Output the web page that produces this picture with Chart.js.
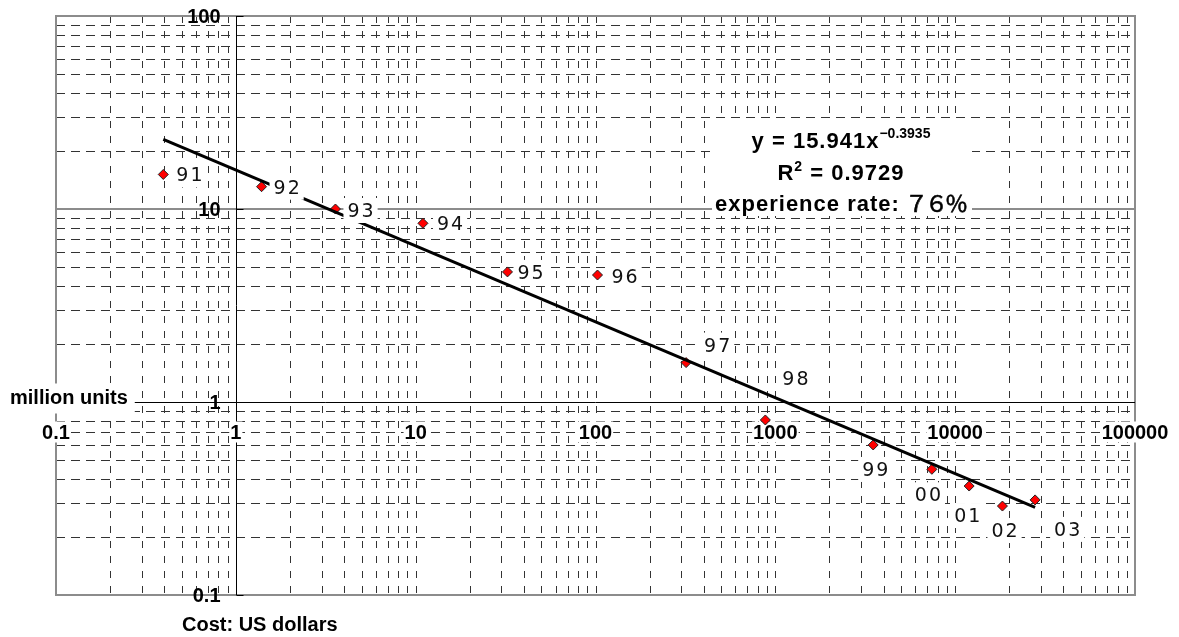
<!DOCTYPE html>
<html>
<head>
<meta charset="utf-8">
<script src="https://cdn.jsdelivr.net/npm/chart.js@4/dist/chart.umd.min.js"></script>
<style>
  html, body { margin: 0; padding: 0; background: #fff; overflow: hidden; }
  canvas { display: block; }
</style>
</head>
<body>
<canvas id="chart" width="1179" height="637"></canvas>
<script>
// Yearly points: cumulative cost (US dollars) against volume (million units)
const years = ['91', '92', '93', '94', '95', '96', '97', '98', '99', '00', '01', '02', '03'];
const cost  = [0.395, 1.39, 3.58, 10.98, 32.4, 102.6, 319, 880, 3500, 7420, 11960, 18320, 27830];
const units = [15.1, 13.05, 10.0, 8.43, 4.72, 4.55, 1.60, 0.807, 0.599, 0.448, 0.367, 0.289, 0.311];

// Power-law fit as printed in the annotation
const fitCoef = 15.941;
const fitExp = -0.3935;
const fitCoefText = '15.941';
const fitExpText = '\u22120.3935';
const fitR2Text = '0.9729';
const experienceLabel = 'experience rate: ';
const experienceRate = '\uFF17\uFF16\uFF05';

// Axis ticks (decades); the minor grid uses 2..9 within each decade
const xTickValues = [0.1, 1, 10, 100, 1000, 10000, 100000];
const xTickLabels = ['0.1', '1', '10', '100', '1000', '10000', '100000'];
const yTickValues = [0.1, 1, 10, 100];
const yTickLabels = ['0.1', '1', '10', '100'];
const minorSteps = [2, 3, 4, 5, 6, 7, 8, 9];
const xTitle = 'million units';
const yTitle = 'Cost: US dollars';

// Where each year label sits relative to its marker (px: left edge, vertical middle)
const labelOffsets = [
  [13, 0], [12, 0], [12, 1], [14, 0], [10, 0], [14, 1], [18, -18],
  [17, -42], [-11, 24], [-17, 25], [-15, 29], [-11, 24], [19, 29]
];

const points = cost.map((c, i) => ({ x: c, y: units[i] }));
const fitStart = cost[0];
const fitEnd = cost[cost.length - 1];
const fitLine = [fitStart, fitEnd].map(x => ({ x: x, y: fitCoef * Math.pow(x, fitExp) }));

const BOLD = '"Liberation Sans", Arial, sans-serif';
const GRID = '#333';
const FRAME = '#8c8c8c';

function crisp(v) { return Math.round(v) + 0.5; }

function setSpacing(ctx, px) {
  if ('letterSpacing' in ctx) ctx.letterSpacing = px + 'px';
}

function minorValues(decades) {
  const out = [];
  decades.slice(0, -1).forEach(d => minorSteps.forEach(m => out.push(m * d)));
  return out;
}

function boxedText(ctx, text, x, baseline, padX, top, bottom) {
  const w = ctx.measureText(text).width;
  ctx.fillStyle = '#fff';
  ctx.fillRect(x - padX, top, w + padX * 2, bottom - top);
  ctx.fillStyle = '#000';
  ctx.fillText(text, x, baseline);
  return w;
}

const backdrop = {
  id: 'backdrop',
  beforeDraw(chart) {
    const ctx = chart.ctx;
    ctx.save();
    ctx.fillStyle = '#fff';
    ctx.fillRect(0, 0, chart.width, chart.height);
    ctx.restore();
  },
  beforeDatasetsDraw(chart) {
    const { ctx, chartArea: a, scales: { x, y } } = chart;
    ctx.save();
    ctx.lineWidth = 1;
    ctx.strokeStyle = GRID;

    // dashed horizontal minor grid
    ctx.setLineDash([9, 6]);
    minorValues(yTickValues).forEach(v => {
      const py = crisp(y.getPixelForValue(v));
      ctx.beginPath(); ctx.moveTo(a.left, py); ctx.lineTo(a.right, py); ctx.stroke();
    });
    // dashed vertical grid: minor steps plus inner decades other than the y axis
    ctx.setLineDash([7, 8]);
    const xLines = minorValues(xTickValues).concat(xTickValues.filter(v => v > x.min && v < x.max && v !== 1));
    xLines.forEach(v => {
      const px = crisp(x.getPixelForValue(v));
      ctx.beginPath(); ctx.moveTo(px, a.top); ctx.lineTo(px, a.bottom); ctx.stroke();
    });
    ctx.setLineDash([]);

    // solid decade line at 10
    ctx.strokeStyle = FRAME;
    ctx.lineWidth = 2;
    yTickValues.forEach(v => {
      if (v <= y.min || v >= y.max || v === 1) return;
      const py = Math.round(y.getPixelForValue(v));
      ctx.beginPath(); ctx.moveTo(a.left, py); ctx.lineTo(a.right, py); ctx.stroke();
    });
    // plot frame
    ctx.strokeRect(a.left, a.top, a.right - a.left, a.bottom - a.top);

    // axes crossing at (1, 1)
    const ax = crisp(x.getPixelForValue(1));
    const ay = crisp(y.getPixelForValue(1));
    ctx.strokeStyle = '#000';
    ctx.lineWidth = 1;
    ctx.beginPath();
    ctx.moveTo(a.left, ay); ctx.lineTo(a.right, ay);
    ctx.moveTo(ax, a.top); ctx.lineTo(ax, a.bottom);
    yTickValues.forEach(v => {
      const py = crisp(y.getPixelForValue(v));
      ctx.moveTo(ax, py); ctx.lineTo(ax + 7, py);
    });
    ctx.stroke();

    // tick labels
    ctx.font = 'bold 20px ' + BOLD;
    ctx.textBaseline = 'alphabetic';
    ctx.textAlign = 'left';
    xTickValues.forEach((v, i) => {
      const px = x.getPixelForValue(v);
      const w = ctx.measureText(xTickLabels[i]).width;
      boxedText(ctx, xTickLabels[i], px - w / 2, ay + 36, 1, ay + 19, ay + 40);
    });
    yTickValues.forEach((v, i) => {
      const py = y.getPixelForValue(v);
      const w = ctx.measureText(yTickLabels[i]).width;
      ctx.fillStyle = '#000';
      ctx.fillText(yTickLabels[i], ax - 16 - w, py + 7);
    });

    // axis titles
    boxedText(ctx, xTitle, 10, ay + 1, 7, ay - 19, ay + 11);
    ctx.fillStyle = '#000';
    ctx.fillText(yTitle, 182, 631);
    ctx.restore();
  },
  afterDatasetsDraw(chart) {
    const { ctx, scales: { x, y } } = chart;
    ctx.save();

    // year labels beside markers
    ctx.font = '19px "DejaVu Sans", sans-serif';
    setSpacing(ctx, 2);
    ctx.textBaseline = 'alphabetic';
    ctx.textAlign = 'left';
    years.forEach((lab, i) => {
      const px = x.getPixelForValue(cost[i]) + labelOffsets[i][0];
      const cy = y.getPixelForValue(units[i]) + labelOffsets[i][1];
      ctx.fillStyle = '#fff';
      const w = ctx.measureText(lab).width;
      ctx.fillRect(px - 4, cy - 12, w + 6, 25);
      ctx.fillStyle = '#111';
      ctx.fillText(lab, px, cy + 7);
    });

    // fit annotation
    const cx = 841;
    ctx.fillStyle = '#fff';
    ctx.fillRect(712, 121, 260, 95);
    ctx.fillStyle = '#000';
    const main = 'bold 22px ' + BOLD;
    const sup = 'bold 14px ' + BOLD;
    const cjk = '23px "Noto Sans CJK JP", sans-serif';

    // line 1: y = a x^b
    setSpacing(ctx, 1);
    ctx.font = main;
    const l1 = 'y = ' + fitCoefText + 'x';
    const w1 = ctx.measureText(l1).width;
    ctx.font = sup;
    setSpacing(ctx, 0);
    const ws1 = ctx.measureText(fitExpText).width;
    let sx = cx - (w1 + ws1) / 2;
    setSpacing(ctx, 1);
    ctx.font = main;
    ctx.fillText(l1, sx, 148);
    setSpacing(ctx, 0);
    ctx.font = sup;
    ctx.fillText(fitExpText, sx + w1, 138);

    // line 2: R^2 = ...
    setSpacing(ctx, 1);
    ctx.font = main;
    const r = 'R';
    const rest = ' = ' + fitR2Text;
    const wr = ctx.measureText(r).width;
    const wrest = ctx.measureText(rest).width;
    ctx.font = sup;
    const w2 = ctx.measureText('2').width;
    sx = cx - (wr + w2 + wrest) / 2;
    ctx.font = main;
    ctx.fillText(r, sx, 180);
    ctx.font = sup;
    ctx.fillText('2', sx + wr, 171);
    ctx.font = main;
    ctx.fillText(rest, sx + wr + w2, 180);

    // line 3: experience rate
    ctx.font = main;
    const we = ctx.measureText(experienceLabel).width;
    setSpacing(ctx, -3);
    ctx.font = cjk;
    const wp = ctx.measureText(experienceRate).width;
    sx = cx - (we + wp) / 2;
    setSpacing(ctx, 1);
    ctx.font = main;
    ctx.fillText(experienceLabel, sx, 211);
    setSpacing(ctx, -3);
    ctx.font = cjk;
    ctx.lineWidth = 0.6;
    ctx.strokeStyle = '#000';
    ctx.fillText(experienceRate, sx + we - 2, 212);
    ctx.strokeText(experienceRate, sx + we - 2, 212);

    ctx.restore();
  }
};

new Chart(document.getElementById('chart'), {
  type: 'scatter',
  data: {
    datasets: [
      {
        label: 'fit',
        type: 'line',
        data: fitLine,
        borderColor: '#000',
        borderWidth: 3,
        pointRadius: 0,
        fill: false,
        tension: 0,
        order: 0
      },
      {
        label: 'units',
        data: points,
        pointStyle: 'rectRot',
        pointRadius: 5,
        backgroundColor: '#ff0000',
        borderColor: '#222',
        borderWidth: 1,
        order: 1
      }
    ]
  },
  options: {
    responsive: false,
    animation: false,
    devicePixelRatio: 1,
    layout: { padding: { left: 56, right: 44, top: 16, bottom: 42 } },
    plugins: { legend: { display: false }, tooltip: { enabled: false } },
    scales: {
      x: { type: 'logarithmic', min: 0.1, max: 100000, display: false },
      y: { type: 'logarithmic', min: 0.1, max: 100, display: false }
    }
  },
  plugins: [backdrop]
});
</script>
</body>
</html>
